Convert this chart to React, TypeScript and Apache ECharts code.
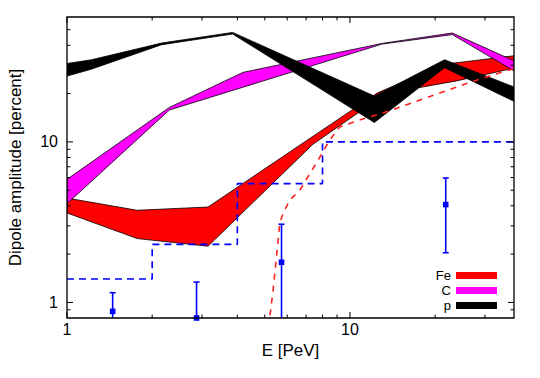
import React, { useEffect, useRef } from 'react';
import * as echarts from 'echarts';

const FONT = '"Liberation Sans", Arial, Helvetica, sans-serif';

const X_MIN = 1;
const X_MAX = 38;
const Y_MIN = 0.8;
const Y_MAX = 60;

// Fe band (red)
const feUpper: number[][] = [[1, 4.47], [1.77, 3.75], [3.15, 3.93], [12.5, 20.2], [21.6, 30.5], [38, 34.4]];
const feLower: number[][] = [[1, 3.61], [1.77, 2.5], [3.15, 2.24], [7.4, 9.67], [13.4, 20.0], [23.8, 24.0], [38, 28.8]];
// C band (magenta)
const cUpper: number[][] = [[1, 5.85], [2.3, 16.4], [4.18, 27.1], [13.0, 41.1], [23.0, 47.7], [38, 32.0]];
const cLower: number[][] = [[1, 4.12], [2.3, 15.8], [13.0, 40.7], [23.0, 46.6], [38, 27.7]];
// p band (black)
const pUpper: number[][] = [[1, 30.8], [1.22, 32.5], [2.16, 41.3], [3.85, 48.1], [12.2, 19.3], [21.6, 32.5], [38, 22.0]];
const pLower: number[][] = [[1, 25.7], [1.22, 28.4], [2.16, 40.3], [3.85, 47.0], [12.2, 13.2], [21.6, 29.0], [38, 17.9]];

// red dashed curve
const curveE = [5.15, 5.21, 5.35, 5.5, 5.65, 5.8, 6.12, 6.65, 7.71, 8.48, 9.2, 11.1, 13.8, 20.2, 26.5, 35.6, 38];
const curveV = [0.7, 0.81, 1.19, 1.92, 3.11, 3.58, 4.33, 5.0, 7.69, 10.25, 12.4, 13.9, 15.6, 19.8, 23.5, 27.7, 28.5];

// blue dashed step (limits)
const stepE = [1, 2, 4, 8, 38];
const stepV = [1.4, 2.3, 5.5, 10, 10];

// blue data points with error bars
const errE = [1.45, 2.87, 5.73, 21.8];
const errV = [0.88, 0.8, 1.78, 4.07];
const errLo = [0.5, 0.5, 0.5, 2.04];
const errHi = [1.15, 1.34, 3.07, 5.96];

// tick positions
const xTicks = [1, 2, 3, 4, 5, 6, 7, 8, 9, 10, 20, 30];
const xMajor = [1, 10];
const yTicks = [0.9, 1, 2, 3, 4, 5, 6, 7, 8, 9, 10, 20, 30, 40, 50];
const yMajor = [1, 10];

const BLUE = '#0000ff';

function bandSeries(name: string, color: string, upper: number[][], lower: number[][], z: number) {
  const pts = [...upper, ...lower.slice().reverse()];
  return {
    type: 'custom',
    name,
    coordinateSystem: 'cartesian2d',
    clip: true,
    z,
    itemStyle: { color },
    encode: { x: 0, y: 1 },
    data: pts,
    renderItem: (params: any, api: any) => {
      if (params.dataIndex !== 0) return null;
      const points = pts.map((p) => api.coord(p));
      return {
        type: 'polygon',
        shape: { points },
        style: { fill: color, stroke: '#000', lineWidth: 0.8 },
      };
    },
  };
}

function isPow10(v: number) {
  const l = Math.log10(v);
  return Math.abs(l - Math.round(l)) < 1e-6;
}

export default function App() {
  const ref = useRef<HTMLDivElement>(null);
  useEffect(() => {
    if (!ref.current) return;
    const chart = echarts.init(ref.current, undefined, { renderer: 'svg' });
    const option: any = {
      animation: false,
      backgroundColor: '#fff',
      textStyle: { fontFamily: FONT },
      grid: { left: 67, top: 17, right: 26, bottom: 60, outerBoundsMode: 'none', containLabel: false },
      legend: {
        show: true,
        orient: 'vertical',
        right: 43,
        top: 268,
        align: 'right',
        itemWidth: 41,
        itemHeight: 7,
        itemGap: 0,
        padding: 0,
        selectedMode: false,
        icon: 'rect',
        itemStyle: { borderWidth: 0 },
        textStyle: { fontSize: 13, lineHeight: 15, color: '#000', fontFamily: FONT },
        data: ['Fe', 'C', 'p'],
      },
      xAxis: {
        type: 'log',
        logBase: 10,
        min: X_MIN,
        max: X_MAX,
        name: 'E [PeV]',
        nameLocation: 'middle',
        nameGap: 21,
        nameTextStyle: { fontSize: 17, color: '#000', fontFamily: FONT },
        axisLine: { show: false },
        axisTick: { show: false },
        splitLine: { show: false },
        axisLabel: {
          fontSize: 16,
          color: '#000',
          fontFamily: FONT,
          margin: 3,
          formatter: (v: number) => (isPow10(v) ? String(Math.round(v)) : ''),
        },
      },
      yAxis: {
        type: 'log',
        logBase: 10,
        min: Y_MIN,
        max: Y_MAX,
        name: 'Dipole amplitude [percent]',
        nameLocation: 'middle',
        nameGap: 43,
        nameTextStyle: { fontSize: 17, color: '#000', fontFamily: FONT },
        axisLine: { show: false },
        axisTick: { show: false },
        splitLine: { show: false },
        axisLabel: {
          fontSize: 16,
          color: '#000',
          fontFamily: FONT,
          margin: 9,
          formatter: (v: number) => (isPow10(v) ? String(Math.round(v)) : ''),
        },
      },
      series: [
        bandSeries('Fe', '#ff0000', feUpper, feLower, 2),
        bandSeries('C', '#ff00ff', cUpper, cLower, 3),
        bandSeries('p', '#000000', pUpper, pLower, 4),
        {
          type: 'line',
          name: 'limits',
          z: 5,
          step: 'end',
          symbol: 'none',
          data: stepE.map((e, i) => [e, stepV[i]]),
          lineStyle: { color: BLUE, width: 1.6, type: [7, 5] },
        },
        {
          type: 'line',
          name: 'Fe expectation',
          z: 5,
          symbol: 'none',
          data: curveE.map((e, i) => [e, curveV[i]]),
          lineStyle: { color: '#ff2020', width: 1.6, type: [6, 6] },
        },
        {
          type: 'custom',
          name: 'data',
          coordinateSystem: 'cartesian2d',
          clip: false,
          z: 6,
          encode: { x: 0, y: 1 },
          data: errE.map((e, i) => [e, errV[i], errLo[i], errHi[i]]),
          renderItem: (params: any, api: any) => {
            const cs = params.coordSys;
            const e = api.value(0);
            const p = api.coord([e, api.value(1)]);
            const lo = api.coord([e, api.value(2)]);
            const hi = api.coord([e, api.value(3)]);
            const bottom = cs.y + cs.height;
            const loY = Math.min(lo[1], bottom);
            const st = { stroke: BLUE, lineWidth: 1.6 };
            const children: any[] = [
              { type: 'line', shape: { x1: p[0], y1: hi[1], x2: p[0], y2: loY }, style: st },
              { type: 'line', shape: { x1: p[0] - 3, y1: hi[1], x2: p[0] + 3, y2: hi[1] }, style: st },
            ];
            if (lo[1] <= bottom) {
              children.push({ type: 'line', shape: { x1: p[0] - 3, y1: lo[1], x2: p[0] + 3, y2: lo[1] }, style: st });
            }
            children.push({ type: 'rect', shape: { x: p[0] - 2.8, y: p[1] - 2.8, width: 5.6, height: 5.6 }, style: { fill: BLUE } });
            return { type: 'group', children };
          },
        },
        {
          type: 'custom',
          name: 'xticks',
          coordinateSystem: 'cartesian2d',
          clip: false,
          z: 10,
          encode: { x: 0, y: 1 },
          data: xTicks.map((t) => [t, Y_MIN, xMajor.includes(t) ? 1 : 0]),
          renderItem: (params: any, api: any) => {
            const cs = params.coordSys;
            const px = api.coord([api.value(0), api.value(1)])[0];
            const len = api.value(2) ? 6 : 3.5;
            const st = { stroke: '#000', lineWidth: 1 };
            const b = cs.y + cs.height;
            const children: any[] = [
              { type: 'line', shape: { x1: px, y1: b, x2: px, y2: b - len }, style: st },
              { type: 'line', shape: { x1: px, y1: cs.y, x2: px, y2: cs.y + len }, style: st },
            ];
            if (params.dataIndex === 0) {
              children.push({
                type: 'rect',
                shape: { x: cs.x, y: cs.y, width: cs.width, height: cs.height },
                style: { fill: 'none', stroke: '#000', lineWidth: 1.3 },
              });
            }
            return { type: 'group', children };
          },
        },
        {
          type: 'custom',
          name: 'yticks',
          coordinateSystem: 'cartesian2d',
          clip: false,
          z: 10,
          encode: { x: 0, y: 1 },
          data: yTicks.map((t) => [X_MIN, t, yMajor.includes(t) ? 1 : 0]),
          renderItem: (params: any, api: any) => {
            const cs = params.coordSys;
            const py = api.coord([api.value(0), api.value(1)])[1];
            const len = api.value(2) ? 6 : 3.5;
            const st = { stroke: '#000', lineWidth: 1 };
            const r = cs.x + cs.width;
            return {
              type: 'group',
              children: [
                { type: 'line', shape: { x1: cs.x, y1: py, x2: cs.x + len, y2: py }, style: st },
                { type: 'line', shape: { x1: r, y1: py, x2: r - len, y2: py }, style: st },
              ],
            };
          },
        },
      ],
    };
    chart.setOption(option);
    return () => chart.dispose();
  }, []);
  return <div ref={ref} style={{ position: 'fixed', left: 0, top: 0, width: 540, height: 378 }} />;
}
